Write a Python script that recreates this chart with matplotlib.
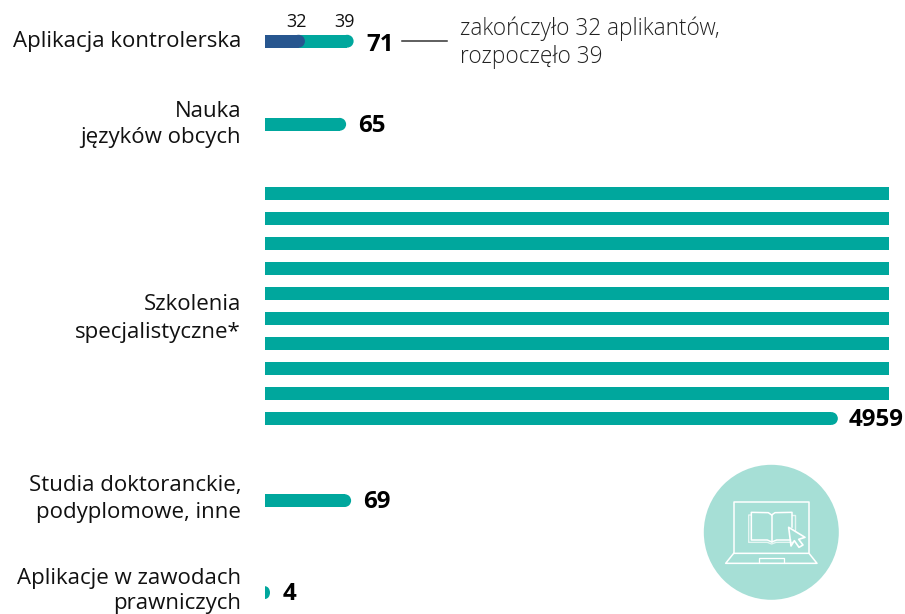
import matplotlib
matplotlib.use("Agg")
import matplotlib.pyplot as plt
from matplotlib.patches import Circle, Ellipse, Rectangle, Polygon

categories = ["Aplikacja kontrolerska", "Nauka\njęzyków obcych", "Szkolenia\nspecjalistyczne*",
              "Studia doktoranckie,\npodyplomowe, inne", "Aplikacje w zawodach\nprawniczych"]
values = [71, 65, 4959, 69, 4]
row_capacity = 500
finished = 32
started = 39
note = "zakończyło 32 aplikantów,\nrozpoczęło 39"

TEAL = "#00A79D"
BLUE = "#27568F"
MINT = "#A6DFD6"
INK = "#111111"
FONT = "Open Sans"

W, H = 905, 614
X0, PX_PER_UNIT = 265.0, 1.248
BAR_H = 12.8
plt.rcParams["font.family"] = [FONT, "DejaVu Sans"]
fig = plt.figure(figsize=(W / 100, H / 100), dpi=100)
ax = fig.add_axes([0, 0, 1, 1])
ax.set_xlim(-X0 / PX_PER_UNIT, (W - X0) / PX_PER_UNIT)
ax.set_ylim(H, 0)
ax.axis("off")


def pill(start, end, yc, color, z=2, rounded=True):
    """Horizontal bar, data units in x, rounded on the right end."""
    r = min((BAR_H / 2) / PX_PER_UNIT, end - start)
    if not rounded:
        ax.barh(yc, end - start, left=start, height=BAR_H, color=color, lw=0, zorder=z)
        return
    body_end = end - r
    if body_end > start:
        ax.barh(yc, body_end - start, left=start, height=BAR_H, color=color, lw=0, zorder=z)
    cap = Ellipse((end - r, yc), 2 * r, BAR_H, color=color, lw=0, zorder=z)
    ax.add_patch(cap)
    clip = Rectangle((start, yc - BAR_H), r * 2 + end, BAR_H * 2, transform=ax.transData)
    cap.set_clip_path(clip)


row_y = [41.2, 124.3, None, 500.6, 592.6]
wrapped_y = [193.5, 218.5, 243.5, 268.5, 293.5, 318.5, 343.5, 368.5, 393.5, 418.5]
value_x = [366, 358, 849, 363, 283]
value_y = [45, 125.5, 420, 502, 594]
label_y = [41, 124.5, 318.5, 499, 591]
label_spacing = [1.26, 1.36, 1.46, 1.36, 1.28]

for i, (cat, v) in enumerate(zip(categories, values)):
    if v > row_capacity:
        full, rest = divmod(v, row_capacity)
        for y in wrapped_y[:full]:
            pill(0, row_capacity, y, TEAL, rounded=False)
        pill(0, rest, wrapped_y[full], TEAL)
    else:
        pill(0, v, row_y[i], TEAL)
    ax.text((241 - X0) / PX_PER_UNIT, label_y[i], cat, ha="right", va="center", fontsize=16,
            color=INK, linespacing=label_spacing[i])
    ax.text((value_x[i] - X0) / PX_PER_UNIT, value_y[i], str(v), ha="left", va="center",
            fontsize=17.4, fontweight="bold", color="black")

pill(0, finished, row_y[0], BLUE, z=3)
ax.text((296 - X0) / PX_PER_UNIT, 22, str(finished), ha="center", va="center", fontsize=13, color=INK)
ax.text((344 - X0) / PX_PER_UNIT, 22, str(started), ha="center", va="center", fontsize=13, color=INK)

ax.plot([(402 - X0) / PX_PER_UNIT, (447 - X0) / PX_PER_UNIT], [41, 41], color="#333333", lw=1.1)
ax.text((460 - X0) / PX_PER_UNIT, 42.5, note, ha="left", va="center", fontsize=16.3, color="#222222",
        linespacing=1.2, fontweight="light")

# decorative icon, drawn in pixel space
ov = fig.add_axes([0, 0, 1, 1], facecolor="none")
ov.set_xlim(0, W)
ov.set_ylim(H, 0)
ov.axis("off")
ov.add_patch(Circle((771.3, 532.3), 67.5, color=MINT, lw=0))


def z(pts):
    return [(680 + a / 3, 450 + b / 3) for a, b in pts]


def line(pts, lw=1.1, alpha=1.0, closed=False):
    p = z(pts)
    if closed:
        p = p + [p[0]]
    ov.plot(*zip(*p), color="white", lw=lw, alpha=alpha, solid_joinstyle="round", solid_capstyle="round")


line([(161, 310), (161, 156), (387, 156), (387, 310)], 1.1)
line([(161, 310), (137, 340), (411, 340), (387, 310)], 1.1, closed=True)
line([(238, 340), (238, 323), (312, 323), (312, 340)], 0.9)
# back pages
line([(214, 195), (206, 195), (206, 277), (262, 277), (275, 282), (288, 277), (338, 277)], 1.0, 0.7)
line([(336, 195), (344, 195), (344, 240)], 1.0, 0.7)
# front pages
line([(275, 195), (265, 188), (214, 187), (214, 270), (262, 270), (275, 276), (290, 270), (332, 270)], 1.1)
line([(275, 195), (285, 188), (336, 187), (336, 232)], 1.1)
line([(275, 195), (275, 276)], 1.1)
# cursor
arrow = z([(326, 232), (375, 262), (356, 268), (369, 285), (357, 292), (343, 272), (333, 288)])
ov.add_patch(Polygon(arrow, closed=True, facecolor=MINT, edgecolor="white", lw=1.2, joinstyle="round"))

fig.savefig("out.png", dpi=100, facecolor="white")
